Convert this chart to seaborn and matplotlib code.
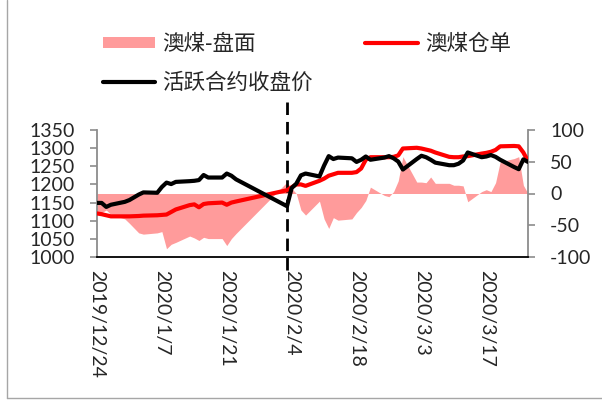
import numpy as np
import pandas as pd
import matplotlib
matplotlib.use("Agg")
import matplotlib.pyplot as plt
import matplotlib.dates as mdates
import matplotlib.transforms as mtransforms
from matplotlib.lines import Line2D
from matplotlib.patches import Patch
from matplotlib.ticker import FuncFormatter, FixedLocator
import seaborn as sns

# ---------------- data ----------------
dates = [
    "2019-12-24", "2019-12-25", "2019-12-26", "2019-12-27", "2019-12-30", "2019-12-31",
    "2020-01-02", "2020-01-03", "2020-01-06", "2020-01-07", "2020-01-08", "2020-01-09", "2020-01-10",
    "2020-01-13", "2020-01-14", "2020-01-15", "2020-01-16", "2020-01-17",
    "2020-01-20", "2020-01-21", "2020-01-22", "2020-01-23",
    "2020-02-03", "2020-02-04", "2020-02-05", "2020-02-06", "2020-02-07",
    "2020-02-10", "2020-02-11", "2020-02-12", "2020-02-13", "2020-02-14",
    "2020-02-17", "2020-02-18", "2020-02-19", "2020-02-20", "2020-02-21",
    "2020-02-24", "2020-02-25", "2020-02-26", "2020-02-27", "2020-02-28",
    "2020-03-02", "2020-03-03", "2020-03-04", "2020-03-05", "2020-03-06",
    "2020-03-09", "2020-03-10", "2020-03-11", "2020-03-12", "2020-03-13",
    "2020-03-16", "2020-03-17", "2020-03-18", "2020-03-19", "2020-03-20",
    "2020-03-23", "2020-03-24", "2020-03-25", "2020-03-26",
]

# 活跃合约收盘价 (left axis)
futures_close = [
    1149, 1149, 1138, 1144, 1152, 1157,
    1172, 1178, 1177, 1193, 1205, 1201, 1207,
    1209, 1210, 1212, 1226, 1219,
    1219, 1230, 1224, 1214,
    1140, 1190, 1202, 1225, 1230,
    1222, 1252, 1278, 1270, 1274,
    1272, 1262, 1268, 1277, 1268,
    1274, 1278, 1272, 1263, 1241,
    1270, 1279, 1275, 1268, 1260,
    1253, 1253, 1257, 1266, 1288,
    1275, 1277, 1281, 1276, 1268,
    1248, 1242, 1269, 1262,
]

# 澳煤仓单 (left axis)
warrant_price = [
    1120, 1118, 1115, 1112, 1112, 1112,
    1113, 1114, 1115, 1116, 1117, 1124, 1131,
    1143, 1145, 1137, 1146, 1148,
    1150, 1144, 1150, 1153,
    1184, 1192, 1200, 1200, 1196,
    1210, 1216, 1224, 1228, 1232,
    1232, 1234, 1244, 1268, 1275,
    1275, 1275, 1276, 1280, 1299,
    1301, 1299, 1296, 1293, 1288,
    1276, 1275, 1275, 1277, 1278,
    1285, 1287, 1290, 1295, 1305,
    1306, 1305, 1288, 1264,
]

# 澳煤-盘面 (right axis)
spread = [
    -28, -30, -26, -33, -40, -47,
    -62, -64, -62, -60, -87, -80, -77,
    -67, -70, -74, -69, -71,
    -71, -82, -71, -63,
    18, 8, 0, -26, -34,
    -12, -40, -55, -38, -42,
    -40, -30, -22, -11, 10,
    -3, -5, 3, 20, 58,
    18, 18, 17, 26, 16,
    16, 13, 13, 12, -13,
    3, 6, 3, 17, 50,
    55, 58, 13, 0,
]

tick_dates = ["2019-12-24", "2020-01-07", "2020-01-21", "2020-02-04",
              "2020-02-18", "2020-03-03", "2020-03-17"]
left_ticks = [1000, 1050, 1100, 1150, 1200, 1250, 1300, 1350]
right_ticks = [-100, -50, 0, 50, 100]
divider_date = "2020-02-03"

label_spread = "澳煤-盘面"
label_warrant = "澳煤仓单"
label_close = "活跃合约收盘价"

df = pd.DataFrame({
    "date": pd.to_datetime(dates),
    "close": futures_close,
    "warrant": warrant_price,
    "spread": spread,
})

# ---------------- style ----------------
sns.set_style("white")
plt.rcParams["font.family"] = ["Lato", "DejaVu Sans"]
cjk = ["Noto Sans CJK SC", "DejaVu Sans"]

W, H = 602, 403
fig = plt.figure(figsize=(W / 100, H / 100), dpi=100)
ax1 = fig.add_axes([97 / W, 1 - 257 / H, (528 - 97) / W, (257 - 130) / H])
ax2 = ax1.twinx()
ax1.set_zorder(ax2.get_zorder() + 1)
ax1.patch.set_visible(False)

pink = "#FF9B9B"
# area on right axis
ax2.fill_between(df["date"], 0, df["spread"], color=pink, linewidth=0)

# lines on left axis
sns.lineplot(data=df, x="date", y="warrant", ax=ax1, color="#FF0000", linewidth=3.0, zorder=3)
sns.lineplot(data=df, x="date", y="close", ax=ax1, color="black", linewidth=3.0, zorder=4)

# axes limits
xmin, xmax = pd.Timestamp("2019-12-24"), pd.Timestamp("2020-03-26")
ax1.set_xlim(xmin, xmax)
ax1.set_ylim(1000, 1350)
ax2.set_ylim(-100, 100)

ax1.yaxis.set_major_locator(FixedLocator(left_ticks))
ax2.yaxis.set_major_locator(FixedLocator(right_ticks))
ax1.yaxis.set_major_formatter(FuncFormatter(lambda v, p: f"{int(round(v))}"))
ax2.yaxis.set_major_formatter(FuncFormatter(lambda v, p: f"{int(round(v))}".replace("\u2212", "-")))

tds = pd.to_datetime(tick_dates)
ax1.set_xticks(mdates.date2num(tds))
ax1.set_xticklabels([f"{d.year}/{d.month}/{d.day}" for d in tds], rotation=270,
                    ha="center", va="top", fontsize=14)
ax1.set_xlabel("")
ax1.set_ylabel("")
ax2.set_ylabel("")

gray = "#8C8C8C"
for a in (ax1, ax2):
    for s in a.spines.values():
        s.set_visible(False)
ax1.spines["left"].set_visible(True)
ax1.spines["left"].set_color(gray)
ax1.spines["left"].set_linewidth(1.3)
ax1.spines["bottom"].set_visible(True)
ax1.spines["bottom"].set_color("black")
ax1.spines["bottom"].set_linewidth(1.3)
ax2.spines["right"].set_visible(True)
ax2.spines["right"].set_color(gray)
ax2.spines["right"].set_linewidth(1.3)

ax1.tick_params(axis="y", which="major", direction="out", length=5, width=1.2,
                color=gray, pad=11, labelsize=14, left=True)
ax2.tick_params(axis="y", which="major", direction="out", length=5, width=1.2,
                color=gray, pad=11, labelsize=14, right=True)
ax1.tick_params(axis="x", length=0, pad=9, labelsize=14)
ax1.grid(False)
ax2.grid(False)

# dashed divider extending beyond the plot area
trans = mtransforms.blended_transform_factory(ax1.transData, ax1.transAxes)
xd = mdates.date2num(pd.Timestamp(divider_date))
ax1.plot([xd, xd], [(257 - 102) / 127, (257 - 276) / 127], transform=trans,
         clip_on=False, color="black", linewidth=2.0, linestyle=(0, (4.5, 2.5)), zorder=2.5)

# legend
handles = [
    Patch(facecolor=pink, edgecolor="none"),
    Line2D([], [], color="black", linewidth=3.0),
    Line2D([], [], color="#FF0000", linewidth=3.0),
]
labels = [label_spread, label_close, label_warrant]
fig.legend(handles, labels, loc="upper left", bbox_to_anchor=(103 / W, 1 - 33 / H),
           ncol=2, frameon=False, borderpad=0, borderaxespad=0,
           handlelength=2.42, handleheight=0.45, handletextpad=0.33,
           columnspacing=2.45, labelspacing=0.78,
           prop={"family": cjk, "size": 15.5})

# chart-area border (left and bottom edges)
fig.add_artist(Line2D([7 / W, 7 / W], [1 - 398 / H, 1.0], transform=fig.transFigure,
                      color="#A6A6A6", linewidth=1.0))
fig.add_artist(Line2D([7 / W, 1.0], [1 - 398 / H, 1 - 398 / H], transform=fig.transFigure,
                      color="#A6A6A6", linewidth=1.0))

fig.savefig("out.png", dpi=100)
